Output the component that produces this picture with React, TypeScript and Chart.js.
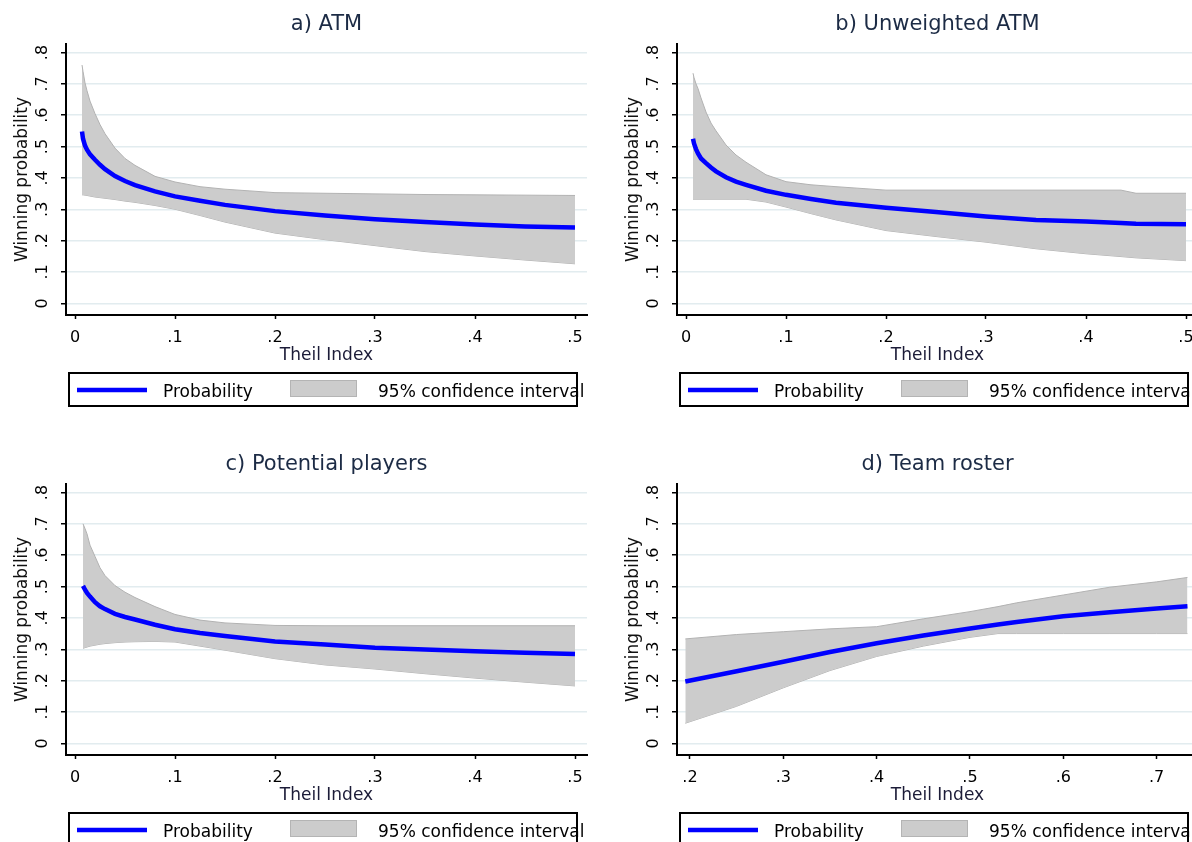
import React, { useEffect, useRef } from 'react';
import { Chart, registerables } from 'chart.js';

Chart.register(...registerables);

// ---------- data ----------
const yTickValues = [0, 0.1, 0.2, 0.3, 0.4, 0.5, 0.6, 0.7, 0.8];
const yTickLabels = ['0', '.1', '.2', '.3', '.4', '.5', '.6', '.7', '.8'];
const xTickValuesLow = [0, 0.1, 0.2, 0.3, 0.4, 0.5];
const xTickLabelsLow = ['0', '.1', '.2', '.3', '.4', '.5'];
const xTickValuesRoster = [0.2, 0.3, 0.4, 0.5, 0.6, 0.7];
const xTickLabelsRoster = ['.2', '.3', '.4', '.5', '.6', '.7'];

// a) ATM
const atmX = [0.007, 0.008, 0.01, 0.012, 0.015, 0.02, 0.025, 0.03, 0.04, 0.05, 0.06, 0.08, 0.1, 0.125, 0.15, 0.2, 0.25, 0.3, 0.35, 0.4, 0.45, 0.5];
const atmProb = [0.548, 0.525, 0.503, 0.49, 0.475, 0.458, 0.442, 0.428, 0.406, 0.39, 0.377, 0.357, 0.341, 0.327, 0.314, 0.294, 0.28, 0.268, 0.259, 0.251, 0.245, 0.242];
const atmHi = [0.76, 0.74, 0.703, 0.678, 0.645, 0.605, 0.57, 0.541, 0.495, 0.462, 0.44, 0.405, 0.387, 0.372, 0.364, 0.353, 0.351, 0.349, 0.347, 0.346, 0.345, 0.344];
const atmLo = [0.346, 0.346, 0.345, 0.344, 0.342, 0.339, 0.337, 0.335, 0.331, 0.326, 0.322, 0.312, 0.3, 0.28, 0.259, 0.224, 0.203, 0.184, 0.165, 0.151, 0.138, 0.126];

// b) Unweighted ATM
const uwX = [0.007, 0.008, 0.01, 0.012, 0.015, 0.02, 0.025, 0.03, 0.04, 0.05, 0.06, 0.08, 0.1, 0.125, 0.15, 0.2, 0.25, 0.3, 0.35, 0.4, 0.435, 0.45, 0.5];
const uwProb = [0.525, 0.51, 0.492, 0.478, 0.462, 0.447, 0.433, 0.421, 0.402, 0.388, 0.378, 0.359, 0.346, 0.333, 0.321, 0.305, 0.291, 0.277, 0.266, 0.261, 0.256, 0.254, 0.252];
const uwHi = [0.734, 0.72, 0.7, 0.685, 0.655, 0.61, 0.575, 0.55, 0.505, 0.473, 0.45, 0.41, 0.388, 0.378, 0.372, 0.361, 0.361, 0.361, 0.361, 0.361, 0.361, 0.351, 0.351];
const uwLo = [0.332, 0.332, 0.332, 0.332, 0.332, 0.332, 0.332, 0.332, 0.332, 0.332, 0.332, 0.323, 0.307, 0.286, 0.266, 0.232, 0.213, 0.195, 0.174, 0.158, 0.149, 0.145, 0.136];

// c) Potential players
const ppX = [0.008, 0.01, 0.012, 0.015, 0.02, 0.025, 0.03, 0.04, 0.05, 0.06, 0.08, 0.1, 0.125, 0.15, 0.2, 0.25, 0.3, 0.35, 0.4, 0.45, 0.5];
const ppProb = [0.502, 0.49, 0.48, 0.468, 0.45, 0.437, 0.428, 0.413, 0.403, 0.395, 0.378, 0.364, 0.352, 0.342, 0.325, 0.315, 0.305, 0.299, 0.294, 0.289, 0.285];
const ppHi = [0.7, 0.685, 0.668, 0.632, 0.596, 0.56, 0.535, 0.503, 0.482, 0.465, 0.436, 0.411, 0.393, 0.384, 0.376, 0.375, 0.375, 0.375, 0.375, 0.375, 0.375];
const ppLo = [0.303, 0.305, 0.307, 0.31, 0.313, 0.316, 0.318, 0.321, 0.323, 0.324, 0.325, 0.323, 0.31, 0.297, 0.27, 0.25, 0.237, 0.222, 0.208, 0.195, 0.183];

// d) Team roster
const trX = [0.195, 0.25, 0.3, 0.35, 0.4, 0.45, 0.5, 0.53, 0.55, 0.6, 0.65, 0.7, 0.733];
const trProb = [0.197, 0.23, 0.26, 0.291, 0.319, 0.344, 0.366, 0.379, 0.387, 0.405, 0.418, 0.43, 0.437];
const trHi = [0.333, 0.347, 0.356, 0.365, 0.372, 0.397, 0.42, 0.436, 0.448, 0.473, 0.498, 0.515, 0.529];
const trLo = [0.064, 0.118, 0.177, 0.232, 0.277, 0.31, 0.338, 0.35, 0.35, 0.35, 0.35, 0.35, 0.35];

const legendLine = 'Probability';
const legendBand = '95% confidence interval';
const yTitle = 'Winning probability';
const xTitle = 'Theil Index';

// ---------- layout constants ----------
const W = 611;
const H = 440;
const PLOT_LEFT = 66;
const PLOT_RIGHT = 587;
const PLOT_TOP = 44;
const PLOT_BOTTOM = 315;
const FONT = '"DejaVu Sans", Verdana, sans-serif';

type PanelCfg = {
  title: string;
  xs: number[];
  prob: number[];
  hi: number[];
  lo: number[];
  xMin: number;
  xMax: number;
  xTicks: number[];
  xLabels: string[];
};

const panels: { cfg: PanelCfg; left: number; top: number }[] = [
  { cfg: { title: 'a) ATM', xs: atmX, prob: atmProb, hi: atmHi, lo: atmLo, xMin: -0.009, xMax: 0.512, xTicks: xTickValuesLow, xLabels: xTickLabelsLow }, left: 0, top: 0 },
  { cfg: { title: 'b) Unweighted ATM', xs: uwX, prob: uwProb, hi: uwHi, lo: uwLo, xMin: -0.009, xMax: 0.512, xTicks: xTickValuesLow, xLabels: xTickLabelsLow }, left: 611, top: 0 },
  { cfg: { title: 'c) Potential players', xs: ppX, prob: ppProb, hi: ppHi, lo: ppLo, xMin: -0.009, xMax: 0.512, xTicks: xTickValuesLow, xLabels: xTickLabelsLow }, left: 0, top: 440 },
  { cfg: { title: 'd) Team roster', xs: trX, prob: trProb, hi: trHi, lo: trLo, xMin: 0.1861, xMax: 0.7443, xTicks: xTickValuesRoster, xLabels: xTickLabelsRoster }, left: 611, top: 440 },
];

const Y_MIN = -0.0373;
const Y_MAX = 0.8271;

function Panel({ cfg, left, top }: { cfg: PanelCfg; left: number; top: number }) {
  const ref = useRef<HTMLCanvasElement | null>(null);

  useEffect(() => {
    const canvas = ref.current;
    if (!canvas) return;

    const textPlugin = {
      id: 'stataText',
      afterDraw(chart: any) {
        const ctx = chart.ctx as CanvasRenderingContext2D;
        const xs = chart.scales.x;
        const ys = chart.scales.y;
        const area = chart.chartArea;
        ctx.save();

        // title
        ctx.fillStyle = '#1c2b45';
        ctx.font = `21px ${FONT}`;
        ctx.textAlign = 'center';
        ctx.textBaseline = 'alphabetic';
        ctx.fillText(cfg.title, (area.left + area.right) / 2, 30);

        // y tick labels (rotated)
        ctx.fillStyle = '#000';
        ctx.font = `16px ${FONT}`;
        yTickValues.forEach((v, i) => {
          const py = ys.getPixelForValue(v);
          ctx.save();
          ctx.translate(47, py);
          ctx.rotate(-Math.PI / 2);
          ctx.textAlign = 'center';
          ctx.fillText(yTickLabels[i], 0, 0);
          ctx.restore();
        });

        // y title
        ctx.save();
        ctx.font = `17px ${FONT}`;
        ctx.fillStyle = '#111';
        ctx.translate(27, (area.top + area.bottom) / 2);
        ctx.rotate(-Math.PI / 2);
        ctx.textAlign = 'center';
        ctx.fillText(yTitle, 0, 0);
        ctx.restore();

        // x tick labels
        ctx.font = `16px ${FONT}`;
        ctx.fillStyle = '#000';
        ctx.textAlign = 'center';
        cfg.xTicks.forEach((v, i) => {
          ctx.fillText(cfg.xLabels[i], xs.getPixelForValue(v), 342);
        });

        // x title
        ctx.font = `17px ${FONT}`;
        ctx.fillStyle = '#1c1c38';
        ctx.fillText(xTitle, (area.left + area.right) / 2, 360);

        // legend
        const bx = 69, by = 373, bw = 508, bh = 33;
        ctx.fillStyle = '#fff';
        ctx.fillRect(bx, by, bw, bh);
        ctx.strokeStyle = '#0000ff';
        ctx.lineWidth = 4.5;
        ctx.beginPath();
        ctx.moveTo(77, 390);
        ctx.lineTo(147, 390);
        ctx.stroke();
        ctx.fillStyle = '#000';
        ctx.font = `17px ${FONT}`;
        ctx.textAlign = 'left';
        ctx.fillText(legendLine, 163, 396.5);
        ctx.fillStyle = '#cccccc';
        ctx.fillRect(290, 380, 67, 17);
        ctx.strokeStyle = '#b4b4b4';
        ctx.lineWidth = 1;
        ctx.strokeRect(290.5, 380.5, 66, 16);
        ctx.fillStyle = '#000';
        ctx.fillText(legendBand, 378, 396.5);
        ctx.strokeStyle = '#000';
        ctx.lineWidth = 2;
        ctx.strokeRect(bx, by, bw, bh);

        ctx.restore();
      },
    };

    const chart = new Chart(canvas, {
      type: 'line',
      data: {
        datasets: [
          {
            label: legendLine,
            data: cfg.xs.map((x, i) => ({ x, y: cfg.prob[i] })),
            borderColor: '#0000ff',
            borderWidth: 4.5,
            pointRadius: 0,
            fill: false,
            tension: 0,
          },
          {
            label: 'upper',
            data: cfg.xs.map((x, i) => ({ x, y: cfg.hi[i] })),
            borderColor: '#b2b2b2',
            borderWidth: 1,
            backgroundColor: '#cccccc',
            pointRadius: 0,
            fill: '+1',
            tension: 0,
          },
          {
            label: 'lower',
            data: cfg.xs.map((x, i) => ({ x, y: cfg.lo[i] })),
            borderColor: '#b2b2b2',
            borderWidth: 1,
            pointRadius: 0,
            fill: false,
            tension: 0,
          },
        ],
      },
      options: {
        responsive: false,
        animation: false,
        events: [],
        layout: { padding: { left: 0, top: PLOT_TOP, right: W - PLOT_RIGHT, bottom: 0 } },
        plugins: {
          legend: { display: false },
          tooltip: { enabled: false },
          title: { display: false },
        },
        scales: {
          x: {
            type: 'linear',
            min: cfg.xMin,
            max: cfg.xMax,
            afterBuildTicks: (s: any) => {
              s.ticks = cfg.xTicks.map((v) => ({ value: v }));
            },
            afterFit: (s: any) => {
              s.height = H - PLOT_BOTTOM;
            },
            ticks: { display: false },
            grid: { drawOnChartArea: false, drawTicks: true, tickLength: 4, tickColor: '#000', tickWidth: 1.5 },
            border: { display: true, color: '#000', width: 2 },
          },
          y: {
            type: 'linear',
            min: Y_MIN,
            max: Y_MAX,
            afterBuildTicks: (s: any) => {
              s.ticks = yTickValues.map((v) => ({ value: v }));
            },
            afterFit: (s: any) => {
              s.width = PLOT_LEFT;
            },
            ticks: { display: false },
            grid: { color: '#e2ecef', lineWidth: 1.5, drawTicks: true, tickLength: 5, tickColor: '#000', tickWidth: 1.5 },
            border: { display: true, color: '#000', width: 2 },
          },
        },
      },
      plugins: [textPlugin],
    } as any);

    return () => chart.destroy();
  }, [cfg]);

  return (
    <canvas
      ref={ref}
      width={W}
      height={H}
      style={{ position: 'absolute', left, top, width: W, height: H }}
    />
  );
}

export default function App() {
  return (
    <div
      style={{
        position: 'absolute',
        left: 0,
        top: 0,
        width: 1192,
        height: 842,
        overflow: 'hidden',
        background: '#ffffff',
      }}
    >
      {panels.map((p, i) => (
        <Panel key={i} cfg={p.cfg} left={p.left} top={p.top} />
      ))}
    </div>
  );
}
